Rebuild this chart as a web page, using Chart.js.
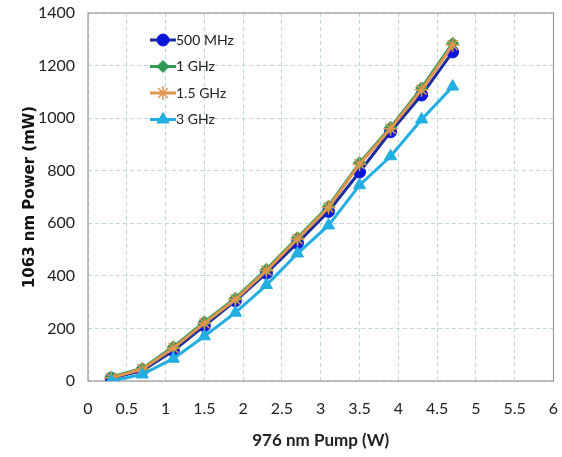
<!DOCTYPE html>
<html>
<head>
<meta charset="utf-8">
<script src="https://cdn.jsdelivr.net/npm/chart.js@4.4.1/dist/chart.umd.min.js"></script>
<style>
  html, body { margin: 0; padding: 0; background: #fff; }
  #wrap { width: 562px; height: 457px; }
</style>
</head>
<body>
<div id="wrap"><canvas id="pumpChart" width="562" height="457"></canvas></div>
<script>
const pumpW = [0.3, 0.7, 1.1, 1.5, 1.9, 2.3, 2.7, 3.1, 3.5, 3.9, 4.3, 4.7];
const seriesNames = ['500 MHz', '1 GHz', '1.5 GHz', '3 GHz'];
const p500MHz = [10, 40, 115, 210, 305, 410, 525, 645, 795, 948, 1088, 1252];
const p1GHz   = [15, 48, 130, 225, 315, 425, 545, 665, 830, 965, 1115, 1285];
const p15GHz  = [12, 45, 125, 220, 310, 420, 540, 660, 825, 960, 1108, 1278];
const p3GHz   = [0, 25, 85, 170, 260, 365, 485, 592, 745, 855, 995, 1120];
const xTicks = [0, 0.5, 1, 1.5, 2, 2.5, 3, 3.5, 4, 4.5, 5, 5.5, 6];

const styles = [
    { line: '#1c2c9c', fill: '#0a18dc', point: 'circle', r: 6 },
    { line: '#2e9a55', fill: '#2e9a55', point: 'rectRot', r: 6 },
    { line: '#e0944e', fill: '#e0944e', point: 'star', r: 7 },
    { line: '#22aee2', fill: '#22aee2', point: 'triangle', r: 7 }
];
const values = [p500MHz, p1GHz, p15GHz, p3GHz];
const tickFont = 'Lato, "Open Sans", sans-serif';

const datasets = values.map((v, i) => ({
    label: seriesNames[i],
    data: v.map((y, k) => ({ x: pumpW[k], y: y })),
    borderColor: styles[i].line,
    backgroundColor: styles[i].fill,
    pointBorderColor: styles[i].fill,
    pointBackgroundColor: styles[i].fill,
    pointStyle: styles[i].point,
    pointRadius: styles[i].r,
    pointBorderWidth: styles[i].point === 'star' ? 1.5 : 1,
    borderWidth: 3,
    tension: 0,
    order: 4 - i
}));

// legend drawn inside the plot, like the original
const innerLegend = {
    id: 'innerLegend',
    afterDatasetsDraw(chart) {
        const ctx = chart.ctx;
        const x0 = 150, y0 = 40, gap = 26.5;
        ctx.save();
        chart.data.datasets.forEach((ds, i) => {
            const y = y0 + i * gap;
            ctx.strokeStyle = ds.borderColor;
            ctx.lineWidth = 3;
            ctx.beginPath();
            ctx.moveTo(x0, y);
            ctx.lineTo(x0 + 26, y);
            ctx.stroke();
            ctx.fillStyle = ds.pointBackgroundColor;
            ctx.strokeStyle = ds.pointBorderColor;
            ctx.lineWidth = ds.pointBorderWidth;
            Chart.helpers.drawPoint(ctx, {
                pointStyle: ds.pointStyle,
                radius: ds.pointRadius,
                borderWidth: ds.pointBorderWidth,
                rotation: 0
            }, x0 + 13, y);
            ctx.fillStyle = '#222';
            ctx.font = '14px ' + tickFont;
            ctx.textBaseline = 'middle';
            ctx.fillText(ds.label, x0 + 26, y);
        });
        ctx.restore();
    }
};

const borderBox = {
    id: 'borderBox',
    beforeDatasetsDraw(chart) {
        const a = chart.chartArea, ctx = chart.ctx;
        ctx.save();
        ctx.strokeStyle = '#999';
        ctx.lineWidth = 1.2;
        ctx.strokeRect(a.left, a.top, a.right - a.left, a.bottom - a.top);
        ctx.restore();
    }
};

new Chart(document.getElementById('pumpChart'), {
    type: 'line',
    data: { datasets: datasets },
    options: {
        responsive: false,
        animation: false,
        layout: { padding: { top: 13, right: 3, left: 0, bottom: 0 } },
        plugins: { legend: { display: false }, tooltip: { enabled: false } },
        scales: {
            x: {
                type: 'linear',
                min: 0, max: 6,
                afterBuildTicks: axis => { axis.ticks = xTicks.map(v => ({ value: v })); },
                afterFit: axis => { axis.height = 76; axis.paddingRight = 0; axis.paddingLeft = 0; },
                grid: { color: '#bcd9e0', drawTicks: false },
                border: { display: false, dash: [4, 3] },
                ticks: { color: '#222', padding: 18, callback: v => String(v),
                    font: { size: 16, family: tickFont } },
                title: { display: true, text: '976 nm Pump (W)', color: '#222', padding: { top: 0, bottom: 6 },
                    font: { size: 17, weight: 'bold', family: tickFont } }
            },
            y: {
                min: 0, max: 1400,
                afterFit: axis => { axis.width = 88; axis.paddingTop = 0; axis.paddingBottom = 0; },
                ticks: { stepSize: 200, color: '#222', padding: 13, callback: v => String(v),
                    font: { size: 16, family: tickFont } },
                grid: { color: '#bcd9e0', drawTicks: false },
                border: { display: false, dash: [4, 3] },
                title: { display: true, text: '1063 nm Power (mW)', color: '#111', padding: { top: 21, bottom: 0 },
                    font: { size: 15, weight: 'bold', family: '"DejaVu Sans", sans-serif' } }
            }
        }
    },
    plugins: [borderBox, innerLegend]
});
</script>
</body>
</html>
